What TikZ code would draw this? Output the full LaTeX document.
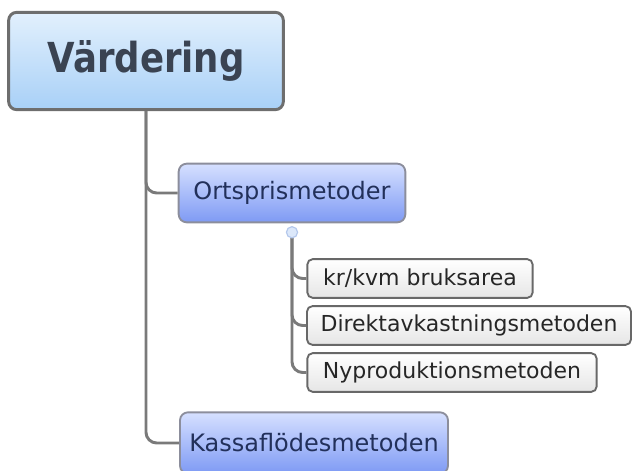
\documentclass[tikz,border=0pt]{standalone}
\usepackage{fontspec}
\usepackage{tikz}
\usetikzlibrary{calc}

\newfontfamily\mapfont{DejaVu Sans}
\newfontfamily\mapnarrowfont[FakeStretch=0.86]{DejaVu Sans}

\definecolor{linegray}{HTML}{7A7A7A}
\definecolor{rootline}{HTML}{6E6E6E}
\definecolor{roottop}{HTML}{E2F0FD}
\definecolor{rootbottom}{HTML}{A8D0F7}
\definecolor{roottext}{HTML}{3A4352}
\definecolor{maintop}{HTML}{D6E0FF}
\definecolor{mainbottom}{HTML}{7E9AF4}
\definecolor{mainline}{HTML}{8C8E9C}
\definecolor{maintext}{HTML}{22305A}
\definecolor{subtop}{HTML}{FFFFFF}
\definecolor{subbottom}{HTML}{E6E6E6}
\definecolor{subline}{HTML}{686868}
\definecolor{knobfill}{HTML}{DCE8FA}
\definecolor{knobline}{HTML}{B4C8EC}

\begin{document}
\begin{tikzpicture}[x=0.75pt, y=-0.75pt]

        \pgfmathsetmacro{\boxr}{6}

        % Box styles for the three levels of the map
        \tikzset{
            rootbox/.style={draw=rootline, line width=2.2pt,
                rounded corners=\boxr pt, top color=roottop,
                bottom color=rootbottom, text=roottext,
                minimum width=206pt, minimum height=73pt,
                font=\mapnarrowfont\bfseries\fontsize{31}{36}\selectfont},
            mainbox/.style={draw=mainline, line width=1.4pt,
                rounded corners=\boxr pt, top color=maintop,
                bottom color=mainbottom, text=maintext,
                minimum height=44pt,
                font=\mapfont\fontsize{18}{22}\selectfont},
            subbox/.style={draw=subline, line width=1.4pt,
                rounded corners=4pt, top color=subtop,
                bottom color=subbottom, text=black!85,
                minimum height=29pt, inner xsep=4pt,
                font=\mapfont\fontsize{16.5}{20}\selectfont},
            link/.style={draw=linegray, line width=2.2pt,
                rounded corners=8pt}
        }

        \useasboundingbox (0, 0) rectangle (633, 471);

        % Nodes, placed at the pixel positions of the map
        \node[rootbox] (vard) at (146, 61) {Värdering};
        \node[mainbox, minimum width=170pt] (orts) at (292, 193)
            {Ortsprismetoder};
        \node[mainbox, minimum width=201pt, minimum height=46pt]
            (kassa) at (314, 443) {Kassaflödesmetoden};

        \node[subbox, minimum width=169pt] (kvm) at (420, 278.5)
            {kr/kvm bruksarea};
        \node[subbox, minimum width=243pt] (direkt) at (469, 325.5)
            {Direktavkastningsmetoden};
        \node[subbox, minimum width=217pt] (nyprod) at (452, 372.5)
            {Nyproduktionsmetoden};

        % Collapse marker below the first branch
        \coordinate (knob) at ($(orts.south) + (0, 9)$);

        \begin{scope}
            \draw[link] (vard.south) |- (orts.west);
            \draw[link] (vard.south) |- (kassa.west);

            \draw[link] (knob) |- (kvm.west);
            \draw[link] (knob) |- (direkt.west);
            \draw[link] (knob) |- (nyprod.west);
        \end{scope}

        \filldraw[draw=knobline, fill=knobfill, line width=0.9pt]
            (knob) circle (4.2pt);

\end{tikzpicture}
\end{document}
